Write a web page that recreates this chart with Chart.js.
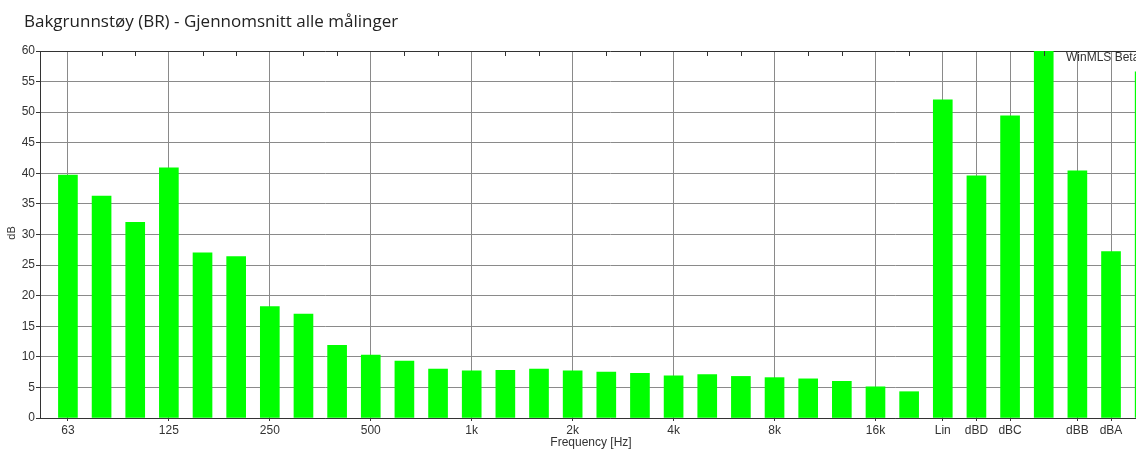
<!DOCTYPE html>
<html>
<head>
<meta charset="utf-8">
<script src="https://cdn.jsdelivr.net/npm/chart.js@4.4.1/dist/chart.umd.min.js"></script>
<style>
  html, body { margin: 0; padding: 0; background: #ffffff; overflow: hidden; }
  #wrap { width: 1180px; height: 449px; }
</style>
</head>
<body>
<div id="wrap"><canvas id="bgChart"></canvas></div>
<script>
// third-octave bands plus the weighted totals
const bands = ['63', '80', '100', '125', '160', '200', '250', '315', '400', '500', '630', '800',
  '1k', '1.25k', '1.6k', '2k', '2.5k', '3.15k', '4k', '5k', '6.3k', '8k', '10k', '12.5k', '16k', '20k',
  'Lin', 'dBD', 'dBC', '', 'dBB', 'dBA', ''];

const levels = [39.7, 36.3, 32.0, 40.9, 27.0, 26.4, 18.2, 17.0, 11.9, 10.3, 9.3, 8.0,
  7.7, 7.8, 8.0, 7.7, 7.5, 7.3, 6.9, 7.1, 6.8, 6.6, 6.4, 6.0, 5.1, 4.3,
  52.0, 39.6, 49.4, 61.0, 40.4, 27.2, 56.6];

const shownLabels = ['63', '125', '250', '500', '1k', '2k', '4k', '8k', '16k', 'Lin', 'dBD', 'dBC', 'dBB', 'dBA'];

const yTicks = [0, 5, 10, 15, 20, 25, 30, 35, 40, 45, 50, 55, 60];

const barPoints = levels.map((value, index) => ({ x: index, y: value }));

function isMajor(index) {
  return shownLabels.includes(bands[index]);
}

const decorations = {
  id: 'decorations',
  afterDraw(chart) {
    const ctx = chart.ctx;
    const area = chart.chartArea;
    const xScale = chart.scales.x;

    ctx.save();
    // small ticks along the top for the unlabelled bands
    ctx.strokeStyle = '#333333';
    ctx.lineWidth = 1;
    bands.forEach((band, index) => {
      if (isMajor(index)) return;
      const px = Math.round(xScale.getPixelForValue(index)) + 0.5;
      ctx.beginPath();
      ctx.moveTo(px, area.top);
      ctx.lineTo(px, area.top + 5);
      ctx.stroke();
    });

    ctx.fillStyle = '#222222';
    ctx.textBaseline = 'middle';
    ctx.textAlign = 'left';
    ctx.font = '17px "Open Sans"';
    ctx.fillText('Bakgrunnstøy (BR) - Gjennomsnitt alle målinger', 24, 22);

    ctx.fillStyle = '#333333';
    ctx.font = '12px "Liberation Sans"';
    ctx.fillText('WinMLS Beta', 1066, 58);

    ctx.textAlign = 'center';
    ctx.font = '12px "Liberation Sans"';
    ctx.fillText('Frequency [Hz]', 591, 443);

    ctx.font = '11px "Liberation Sans"';
    ctx.translate(12, 233);
    ctx.rotate(-Math.PI / 2);
    ctx.fillText('dB', 0, 0);
    ctx.restore();
  }
};

new Chart(document.getElementById('bgChart'), {
  type: 'bar',
  data: {
    datasets: [{
      data: barPoints,
      backgroundColor: '#00ff00',
      borderWidth: 0,
      barThickness: 19
    }]
  },
  options: {
    responsive: true,
    maintainAspectRatio: false,
    animation: false,
    layout: { padding: { top: 51, left: 0, right: 0, bottom: 0 } },
    plugins: {
      legend: { display: false },
      title: { display: false },
      tooltip: { enabled: false }
    },
    scales: {
      x: {
        type: 'linear',
        offset: false,
        min: -0.83,
        max: 33.05,
        afterFit(scale) { scale.height = 31; },
        afterBuildTicks(scale) {
          scale.ticks = bands.map((band, index) => ({ value: index }));
        },
        ticks: {
          autoSkip: false,
          maxRotation: 0,
          padding: 2,
          color: '#333333',
          font: { family: 'Liberation Sans', size: 12 },
          callback: (value) => (isMajor(value) ? bands[value] : '')
        },
        grid: {
          offset: false,
          drawTicks: true,
          tickLength: 3,
          color: (ctx) => (ctx.tick && isMajor(ctx.tick.value) ? '#8a8a8a' : 'rgba(0,0,0,0)'),
          tickColor: (ctx) => (ctx.tick && isMajor(ctx.tick.value) ? '#333333' : 'rgba(0,0,0,0)')
        },
        border: { display: true, color: '#333333' }
      },
      y: {
        min: 0,
        max: 60,
        afterFit(scale) { scale.width = 40; },
        afterBuildTicks(scale) {
          scale.ticks = yTicks.map((value) => ({ value }));
        },
        ticks: {
          padding: 1,
          color: '#333333',
          font: { family: 'Liberation Sans', size: 12 }
        },
        grid: {
          tickLength: 4,
          color: (ctx) => (ctx.tick && ctx.tick.value === 60 ? '#333333' : '#8a8a8a'),
          tickColor: '#333333'
        },
        border: { display: true, color: '#333333' }
      }
    }
  },
  plugins: [decorations]
});
</script>
</body>
</html>
